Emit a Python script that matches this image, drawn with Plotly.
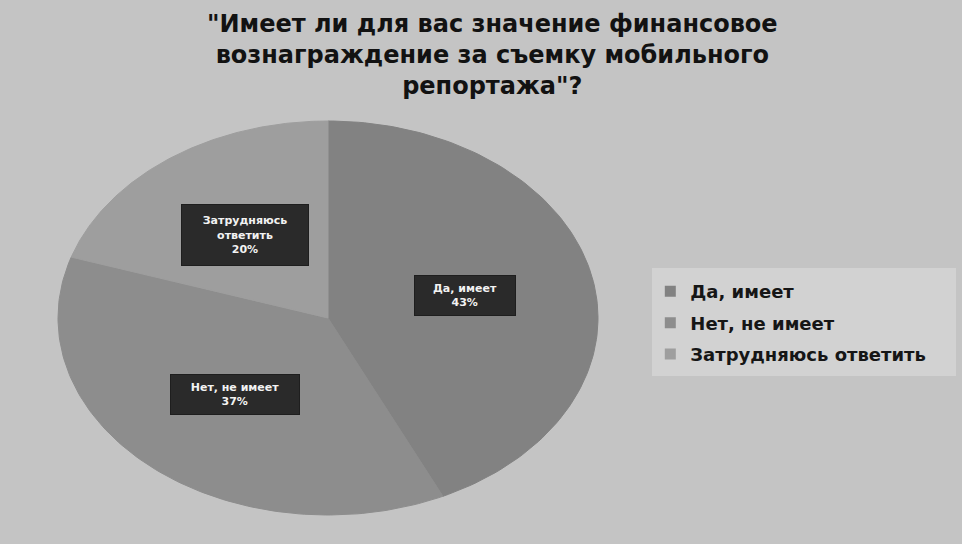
import numpy as np
import plotly.graph_objects as go

# Survey answers and their shares (%)
categories = ["Да, имеет", "Нет, не имеет", "Затрудняюсь ответить"]
label_texts = ["Да, имеет<br>43%", "Нет, не имеет<br>37%", "Затрудняюсь<br>ответить<br>20%"]
values = [43, 37, 20]

slice_colors = ["#828282", "#8d8d8d", "#9e9e9e"]
title_text = ("\"Имеет ли для вас значение финансовое<br>"
              "вознаграждение за съемку мобильного<br>"
              "репортажа\"?")

# Pie geometry in pixel units (ellipse, clockwise from 12 o'clock)
cx, cy = 328, 318
rx, ry = 270, 197
label_r = 0.52
box_sizes = [(100, 39), (128, 39), (126, 60)]

fig = go.Figure()

total = float(sum(values))
start = 0.0
label_pos = []
for i, (name, v, col) in enumerate(zip(categories, values, slice_colors)):
    a0 = start / total * 2 * np.pi
    a1 = (start + v) / total * 2 * np.pi
    t = np.linspace(a0, a1, 120)
    xs = np.concatenate([[cx], cx + rx * np.sin(t), [cx]])
    ys = np.concatenate([[cy], cy - ry * np.cos(t), [cy]])
    fig.add_trace(go.Scatter(
        x=xs, y=ys, mode="lines", fill="toself", fillcolor=col,
        line=dict(color=col, width=1), name=name, hoverinfo="name",
        legendgroup=f"g{i}", showlegend=False,
    ))
    # legend entry with a square swatch
    fig.add_trace(go.Scatter(
        x=[None], y=[None], mode="markers", name=name, legendgroup=f"g{i}",
        marker=dict(symbol="square", size=11, color=col),
    ))
    am = (a0 + a1) / 2
    label_pos.append((cx + label_r * rx * np.sin(am), cy - label_r * ry * np.cos(am)))
    start += v

pad = 4
for (lx, ly), txt, (bw, bh) in zip(label_pos, label_texts, box_sizes):
    fig.add_annotation(
        x=lx, y=ly, xref="x", yref="y", text=txt, showarrow=False,
        font=dict(family="DejaVu Sans", size=11, color="#f2f2f2", weight="bold"),
        bgcolor="#2a2a2a", bordercolor="#1e1e1e", borderwidth=1, borderpad=pad,
        width=bw - 2 * pad, height=bh - 2 * pad, align="center",
    )

# Chart title
fig.add_annotation(
    x=492, y=55, xref="x", yref="y", text=title_text, showarrow=False,
    font=dict(family="DejaVu Sans", size=24, color="#121212", weight="bold"),
    align="center",
)

# Lighter panel behind the legend
fig.add_shape(type="rect", xref="x", yref="y", x0=652, x1=956, y0=268, y1=376,
              fillcolor="#d2d2d2", line=dict(width=0), layer="below")

fig.update_layout(
    width=962, height=544,
    margin=dict(l=0, r=0, t=0, b=0),
    paper_bgcolor="#c4c4c4", plot_bgcolor="#c4c4c4",
    xaxis=dict(range=[0, 962], visible=False, fixedrange=True),
    yaxis=dict(range=[544, 0], visible=False, fixedrange=True),
    legend=dict(x=0.676, y=0.498, xanchor="left", yanchor="top",
                bgcolor="rgba(0,0,0,0)",
                font=dict(family="DejaVu Sans", size=18, color="#161616", weight="bold"),
                itemwidth=30, tracegroupgap=5),
    showlegend=True,
)

fig.write_html("out.html")
